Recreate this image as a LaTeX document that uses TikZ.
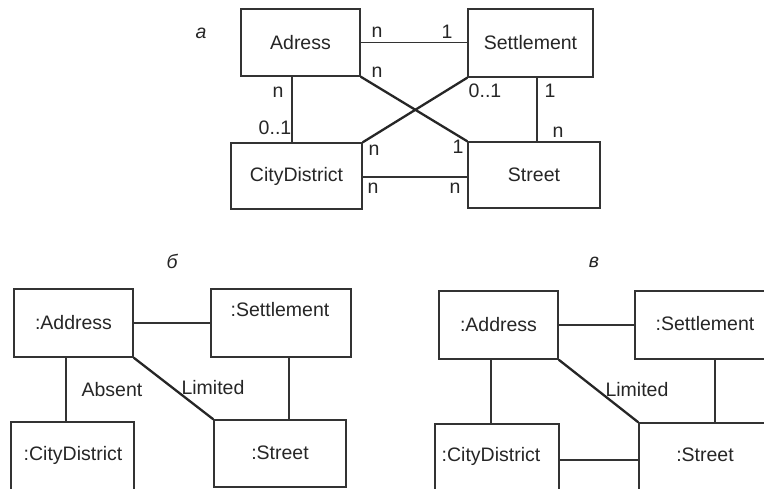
\documentclass[tikz,border=0pt]{standalone}
\usepackage{fontspec}
\setmainfont{Liberation Sans}
\begin{document}
\begin{tikzpicture}[x=1pt,y=-1pt,
  every node/.style={font=\fontsize{19.5}{21}\selectfont, text=black!85},
  box/.style={draw=black!80, line width=1.4pt, inner sep=0pt, rectangle},
  link/.style={draw=black!80, line width=1.4pt},
  bold/.style={draw=black!85, line width=2.3pt},
  mult/.style={inner sep=0pt},
  figcap/.style={inner sep=0pt, font=\fontsize{19.5}{21}\selectfont\itshape}
]
\useasboundingbox (0,0) rectangle (764,489);
\clip (0,0) rectangle (764,489);
\fill[white] (0,0) rectangle (764,489);

% ---------- a ----------
\node[figcap] (capa) at (201,33) {a};
\node[box, minimum width=119pt, minimum height=67pt] (adr) at (300.5,42.5) {Adress};
\node[box, minimum width=125pt, minimum height=68pt] (set) at (530.5,43) {Settlement};
\node[box, minimum width=131pt, minimum height=66pt] (cd) at (296.5,176) {CityDistrict};
\node[box, minimum width=132pt, minimum height=66pt] (str) at (534,175) {Street};

\draw[link] (adr.east) -- (adr.east -| set.west);
\coordinate (a1) at ([xshift=-8.5pt]adr.south);
\draw[link] (a1) -- (a1 |- cd.north);
\coordinate (a2) at ([xshift=6.5pt]set.south);
\draw[link] (a2) -- (a2 |- str.north);
\coordinate (a3) at ([yshift=-1pt]cd.east);
\draw[link] (a3) -- (a3 -| str.west);
\draw[bold] (adr.south east) -- (str.north west);
\draw[bold] (set.south west) -- (cd.north east);

\node[mult] (m1) at (377,32) {n};
\node[mult] (m2) at (447,32) {1};
\node[mult] (m3) at (377,72) {n};
\node[mult] (m4) at (278,92) {n};
\node[mult] (m5) at (275,128) {0..1};
\node[mult] (m6) at (485,91) {0..1};
\node[mult] (m7) at (550,91) {1};
\node[mult] (m8) at (558,132) {n};
\node[mult] (m9) at (374,150) {n};
\node[mult] (m10) at (458,147) {1};
\node[mult] (m11) at (373,188) {n};
\node[mult] (m12) at (455,188) {n};

% ---------- b ----------
\node[figcap] (capb) at (172,261) {б};
\node[box, minimum width=119pt, minimum height=68pt] (ba) at (73.5,323) {:Address};
\node[box, minimum width=140pt, minimum height=68pt] (bs) at (281,323) {};
\node[mult] (bst) at (280,310) {:Settlement};
\node[box, minimum width=123pt, minimum height=68pt] (bc) at (72.5,456) {};
\node[mult] (bct) at (73,455) {:CityDistrict};
\node[box, minimum width=132pt, minimum height=67pt] (bt) at (280,453.5) {};
\node[mult] (btt) at (280,453) {:Street};

\draw[link] (ba.east) -- (ba.east -| bs.west);
\coordinate (b1) at ([xshift=-7.5pt]ba.south);
\draw[link] (b1) -- (b1 |- bc.north);
\coordinate (b2) at ([xshift=8pt]bs.south);
\draw[link] (b2) -- (b2 |- bt.north);
\draw[bold] (ba.south east) -- (bt.north west);
\node[mult] (babs) at (112,390) {Absent};
\node[mult] (blim) at (213,388) {Limited};

% ---------- v ----------
\node[figcap] (capc) at (594,262) {в};
\node[box, minimum width=119pt, minimum height=68pt] (ca) at (498.5,325) {:Address};
\node[box, minimum width=140pt, minimum height=68pt] (cs) at (705,325) {};
\node[mult] (cst) at (705,324) {:Settlement};
\node[box, minimum width=124pt, minimum height=68pt] (cc) at (497,458) {};
\node[mult] (cct) at (491,456) {:CityDistrict};
\node[box, minimum width=132pt, minimum height=68pt] (ct) at (705,457) {};
\node[mult] (ctt) at (705,455) {:Street};

\draw[link] (ca.east) -- (ca.east -| cs.west);
\coordinate (c1) at ([xshift=-7.5pt]ca.south);
\draw[link] (c1) -- (c1 |- cc.north);
\coordinate (c2) at ([xshift=10pt]cs.south);
\draw[link] (c2) -- (c2 |- ct.north);
\coordinate (c3) at ([yshift=-2pt]cc.east);
\draw[link] (c3) -- (c3 -| ct.west);
\draw[bold] (ca.south east) -- (ct.north west);
\node[mult] (clim) at (637,390) {Limited};
\end{tikzpicture}
\end{document}
